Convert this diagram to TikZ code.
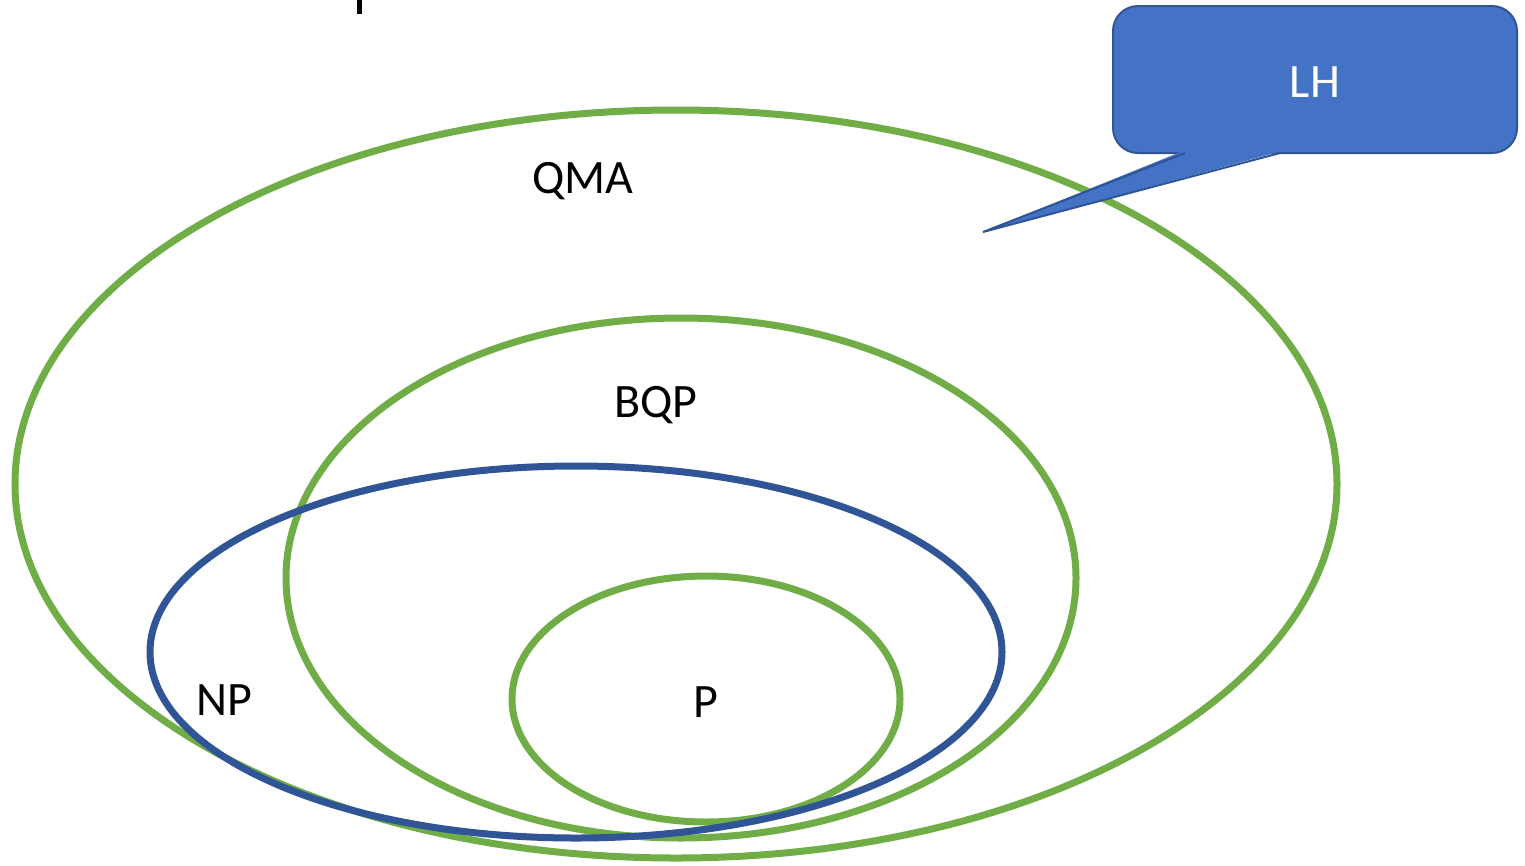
\documentclass[tikz,border=0pt]{standalone}
\usepackage{fontspec}
\setmainfont{Carlito}
\definecolor{cgreen}{HTML}{70AD47}
\definecolor{cblue}{HTML}{2F5597}
\definecolor{cfill}{HTML}{4472C4}
\begin{document}
\begin{tikzpicture}[x=1pt,y=-1pt,
  greenell/.style={draw=cgreen,line width=7pt},
  blueell/.style={draw=cblue,line width=7pt},
  lbl/.style={font=\fontsize{48}{54}\selectfont,text=black,inner sep=0pt},
  callout/.style={draw=cblue,line width=2pt,fill=cfill,rounded corners=25pt,
    minimum width=404pt,minimum height=147pt,text=white,
    font=\fontsize{48}{54}\selectfont}]
\useasboundingbox (0,0) rectangle (1525,865);
% ellipses
\draw[greenell] (676,484) ellipse [x radius=661, y radius=374];
\draw[greenell] (681,578) ellipse [x radius=395, y radius=260];
\draw[greenell] (706,699) ellipse [x radius=194, y radius=123];
\draw[blueell] (576,652) ellipse [x radius=426, y radius=186];
% labels
\node[lbl] (qma) at (583,181) {QMA};
\node[lbl] (bqp) at (656,405) {BQP};
\node[lbl] (np) at (224,700) {NP};
\node[lbl] (p) at (706,702) {P};
% top mark
\fill[black] (357,0) rectangle (362,14);
% callout
\node[callout] (lh) at (1315,79.5) {};
\node[text=white,font=\fontsize{48}{54}\selectfont,inner sep=0pt] (lht) at (1315,82) {LH};
\coordinate (tip) at (983,232);
\coordinate (b1) at (1185,153);
\coordinate (b2) at (1280,153);
\fill[cfill] (1183,151) -- (tip) -- (1282,151) -- cycle;
\draw[cblue,line width=2pt,line join=miter] (b1) -- (tip) -- (b2);
\end{tikzpicture}
\end{document}
